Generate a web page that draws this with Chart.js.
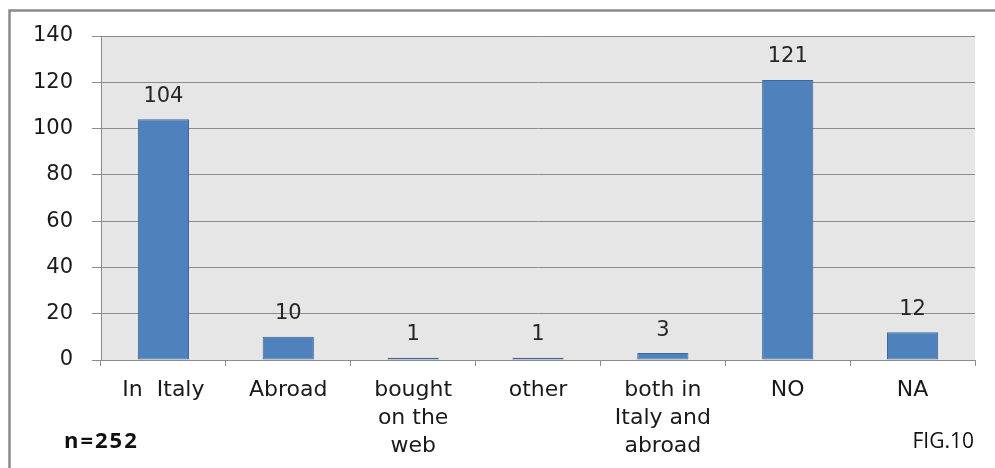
<!DOCTYPE html>
<html lang="en">
<head>
    <meta charset="UTF-8">
    <title>FIG.10</title>
    <script src="https://cdn.jsdelivr.net/npm/chart.js"></script>
    <style>
        body {
            margin: 0;
            padding: 0;
            background-color: white;
        }
        .chart-container {
            width: 995px;
            height: 468px;
        }
    </style>
</head>
<body>
    <div class="chart-container">
        <canvas id="figChart"></canvas>
    </div>

    <script>
        const categories = [
            ["In  Italy"],
            ["Abroad"],
            ["bought", "on the", "web"],
            ["other"],
            ["both in", "Italy and", "abroad"],
            ["NO"],
            ["NA"]
        ];
        const answers = [104, 10, 1, 1, 3, 121, 12];
        const yTicks = [0, 20, 40, 60, 80, 100, 120, 140];
        const sampleNote = "n=252";
        const figureNote = "FIG.10";

        const gridGray = "#8c8c8c";
        const labelFont = "DejaVu Sans";

        // frame, grey plot background, value labels and the two notes
        const decorations = {
            id: "decorations",
            beforeDraw(chart) {
                const { ctx, chartArea } = chart;
                ctx.save();
                ctx.fillStyle = "#e6e6e6";
                ctx.fillRect(chartArea.left, chartArea.top,
                    chartArea.right - chartArea.left, chartArea.bottom - chartArea.top);
                ctx.strokeStyle = "#8a8a8a";
                ctx.lineWidth = 2.5;
                ctx.beginPath();
                ctx.moveTo(9.5, chart.height);
                ctx.lineTo(9.5, 10.5);
                ctx.lineTo(chart.width, 10.5);
                ctx.stroke();
                ctx.restore();
            },
            afterDatasetsDraw(chart) {
                const { ctx } = chart;
                const meta = chart.getDatasetMeta(0);
                ctx.save();
                ctx.font = "21px '" + labelFont + "'";
                ctx.fillStyle = "#262626";
                ctx.textAlign = "center";
                ctx.textBaseline = "middle";
                meta.data.forEach((bar, i) => {
                    ctx.fillText(String(answers[i]), bar.x, bar.y - 23);
                });

                ctx.font = "bold 22px 'Open Sans'";
                ctx.letterSpacing = "2px";
                ctx.fillStyle = "#111";
                ctx.textAlign = "left";
                ctx.fillText(sampleNote, 64, 442);

                ctx.font = "21px 'Open Sans'";
                ctx.letterSpacing = "0px";
                ctx.textAlign = "right";
                ctx.fillText(figureNote, 974, 442);
                ctx.restore();
            }
        };

        const ctx = document.getElementById("figChart").getContext("2d");

        new Chart(ctx, {
            type: "bar",
            data: {
                labels: categories,
                datasets: [{
                    data: answers,
                    backgroundColor: "#4f81bd",
                    borderColor: "#3d6796",
                    borderWidth: 1,
                    borderSkipped: false,
                    barPercentage: 0.41,
                    categoryPercentage: 1
                }]
            },
            options: {
                responsive: true,
                maintainAspectRatio: false,
                animation: false,
                layout: {
                    padding: { left: 0, top: 36, right: 20, bottom: 0 }
                },
                plugins: {
                    legend: { display: false },
                    tooltip: { enabled: false }
                },
                scales: {
                    x: {
                        afterFit: (scale) => { scale.height = 108; },
                        grid: {
                            offset: true,
                            drawOnChartArea: false,
                            tickLength: 6,
                            color: gridGray
                        },
                        border: { color: gridGray, width: 1 },
                        ticks: {
                            maxRotation: 0,
                            autoSkip: false,
                            padding: 10,
                            color: "#1a1a1a",
                            font: { family: labelFont, size: 22, lineHeight: 1.27 }
                        }
                    },
                    y: {
                        min: 0,
                        max: 140,
                        afterFit: (scale) => { scale.width = 101; },
                        afterBuildTicks: (scale) => {
                            scale.ticks = yTicks.map(v => ({ value: v }));
                        },
                        grid: {
                            tickLength: 9,
                            color: gridGray
                        },
                        border: { color: gridGray, width: 1 },
                        ticks: {
                            padding: 19,
                            color: "#1a1a1a",
                            font: { family: labelFont, size: 21 }
                        }
                    }
                }
            },
            plugins: [decorations]
        });
    </script>
</body>
</html>
